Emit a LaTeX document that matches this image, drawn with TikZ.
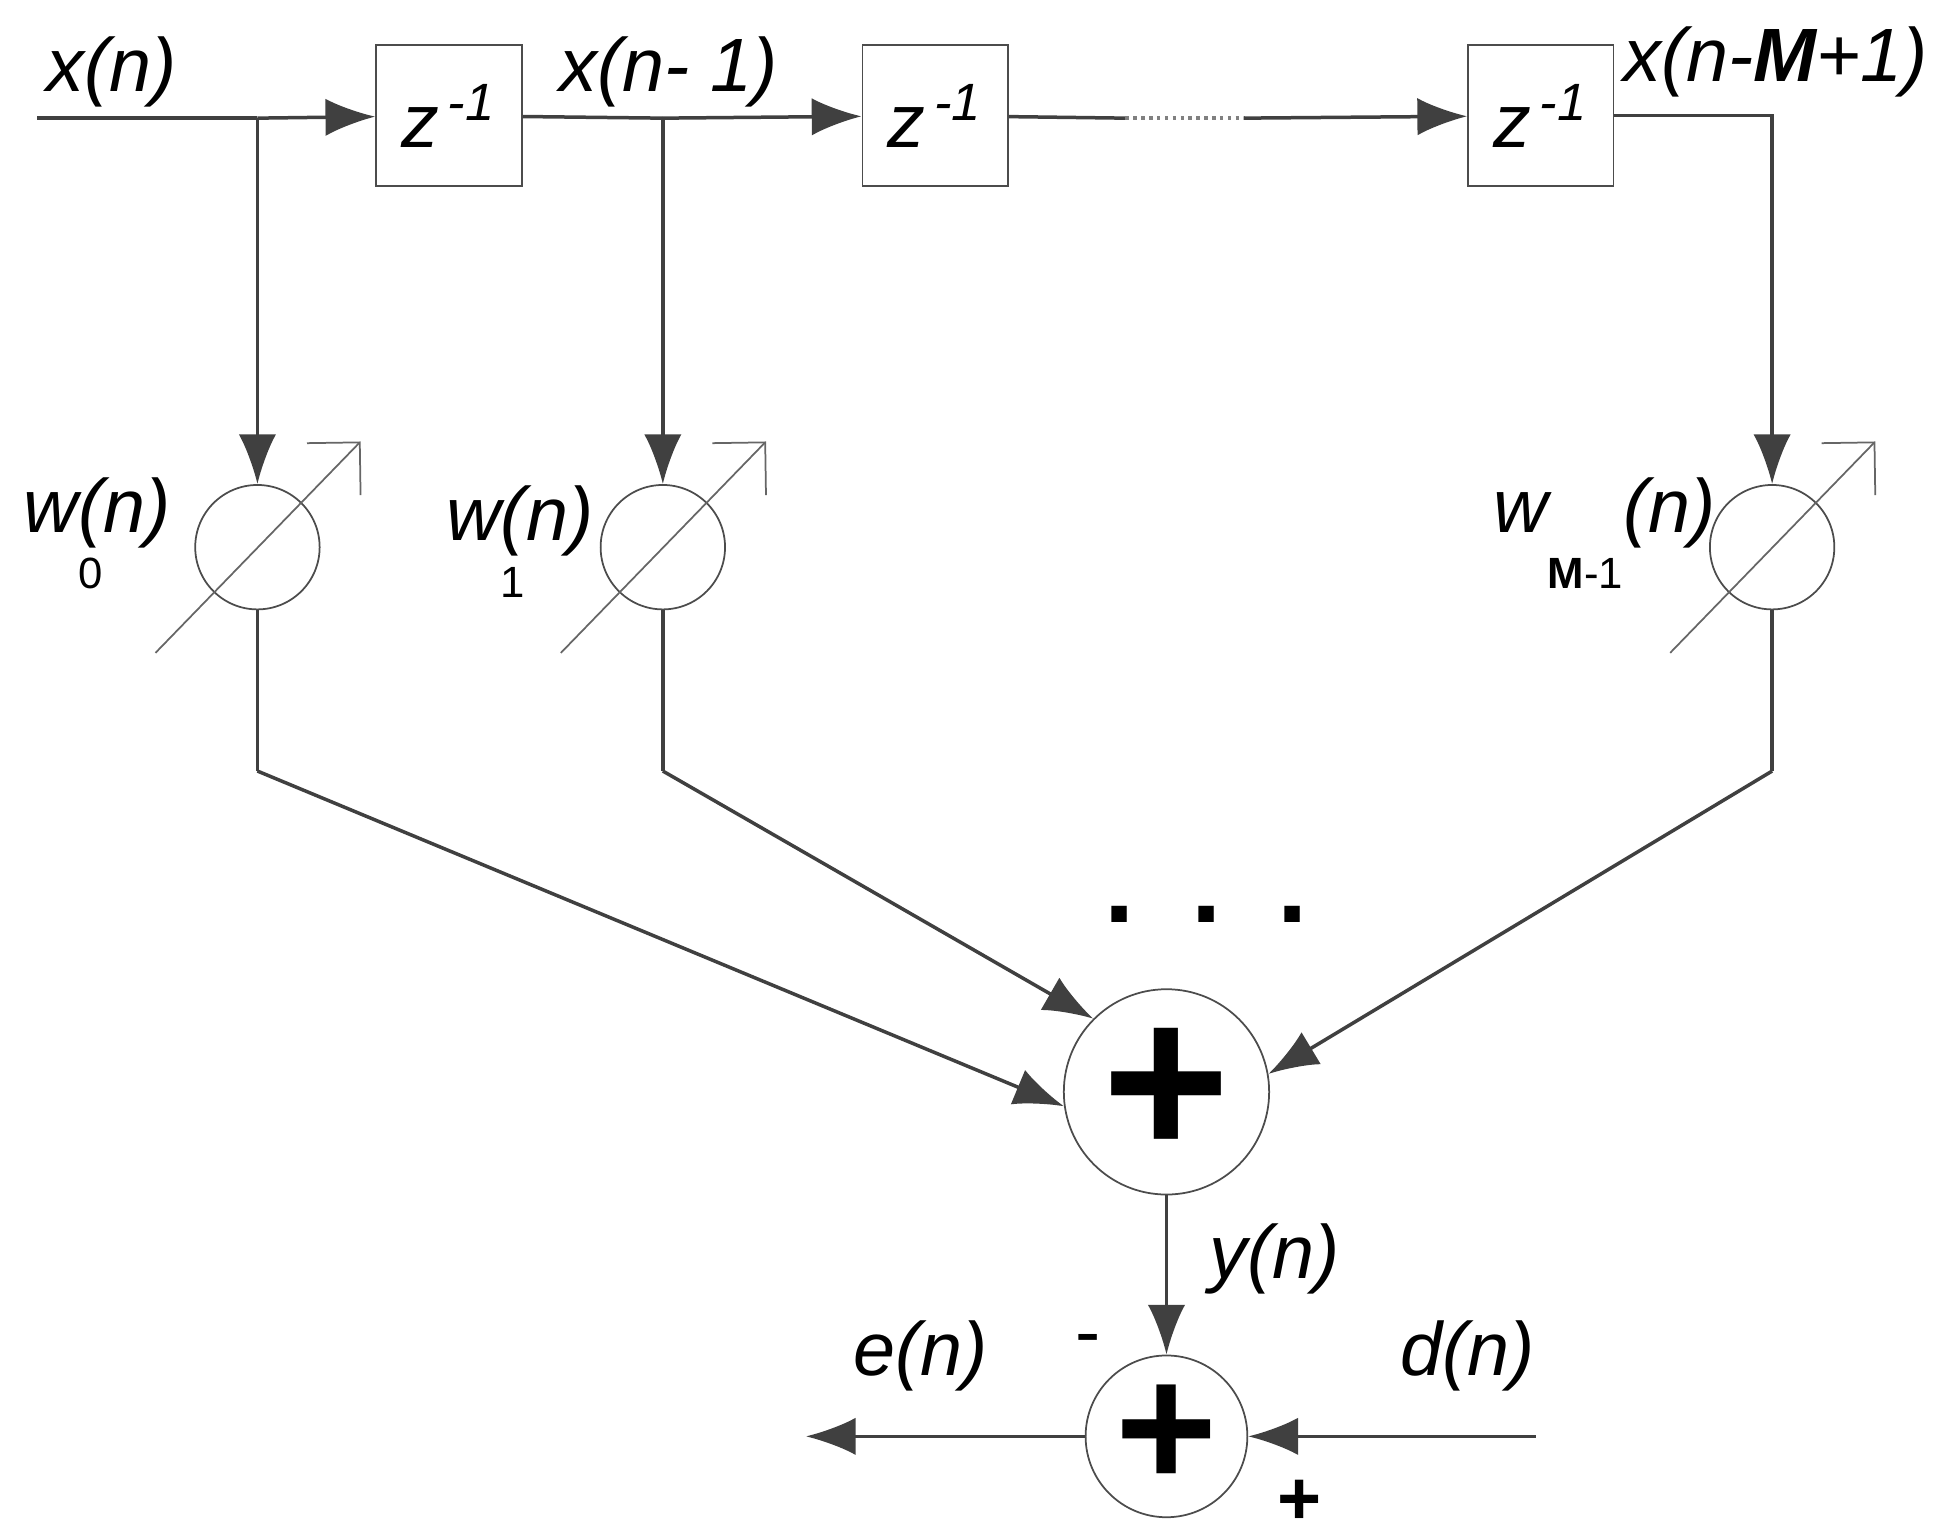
\documentclass[tikz,border=0pt]{standalone}
\usepackage{fontspec}
\setmainfont{Liberation Sans}
\usetikzlibrary{arrows.meta, positioning}
\begin{document}
\begin{tikzpicture}[x=0.01cm, y=-0.01cm,
    delay/.style={draw=black!70, minimum width=1.17cm, minimum height=1.13cm, inner sep=0pt, font=\LARGE\itshape},
    gain/.style={circle, draw=black!70, minimum size=1cm, inner sep=0pt},
    adder/.style={circle, draw=black!70, inner sep=0pt},
    lbl/.style={font=\LARGE\itshape, inner sep=0pt},
    sig/.style={draw=black!75, thick, -{Latex[length=4mm, width=3mm]}},
    wire/.style={draw=black!75, thick}]
  \useasboundingbox (0,0) rectangle (1560,1236);
  % delay line
  \coordinate (in) at (30,95);
  \node[delay] (d1) at (361,93) {z\textsuperscript{\,-1}};
  \node[delay] (d2) at (752,93) {z\textsuperscript{\,-1}};
  \node[delay] (d3) at (1239,93) {z\textsuperscript{\,-1}};
  \coordinate (t0) at (207,95);
  \coordinate (t1) at (533,95);
  \coordinate (t2) at (1425,95);
  \coordinate (dotA) at (905,95);
  \coordinate (dotB) at (1000,95);
  \draw[wire] (in) -- (t0);
  \draw[sig] (t0) -- (d1);
  \draw[wire] (d1) -- (t1);
  \draw[sig] (t1) -- (d2);
  \draw[wire] (d2) -- (dotA);
  \draw[wire, densely dotted, black!50] (dotA) -- (dotB);
  \draw[sig] (dotB) -- (d3);
  \draw[wire] (d3.east) -| (t2);
  % tap weights
  \foreach \i/\x in {0/207, 1/533, 2/1425} {
    \node[gain] (g\i) at (\x,440) {};
    \coordinate (a\i) at (\x-82,525);
    \coordinate (b\i) at (\x+83,355);
    \draw[draw=black!60, -{Straight Barb[length=3mm]}] (a\i) -- (b\i);
    \draw[sig] (t\i) -- (g\i);
    \coordinate (k\i) at (\x,620);
    \draw[wire] (g\i) -- (k\i);
  }
  % summation
  \node[adder, minimum size=1.65cm, font=\fontsize{50}{50}\bfseries] (sum) at (938,878) {+};
  \draw[sig] (k0) -- (sum.188);
  \draw[sig] (k1) -- (sum.135);
  \draw[sig] (k2) -- (sum.10);
  \node[lbl, font=\Huge\bfseries] (dots) at (970,735) {.\hspace{0.45cm}.\hspace{0.45cm}.};
  % error
  \node[adder, minimum size=1.3cm, font=\fontsize{40}{40}\bfseries] (err) at (938,1155) {+};
  \coordinate (out) at (648,1155);
  \coordinate (dsrc) at (1235,1155);
  \draw[sig] (sum) -- (err);
  \draw[sig] (err) -- (out);
  \draw[sig] (dsrc) -- (err);
  % labels
  \node[lbl] (lx0) at (90,58) {x(n)};
  \node[lbl] (lx1) at (538,58) {x(n- 1)};
  \node[lbl] (lx2) at (1428,50) {x(n-\textbf{M}+1)};
  \node[lbl, anchor=base] (lw0) at (78,428) {w\rlap{\raisebox{-0.75em}{\normalsize\upshape 0}}(n)};
  \node[lbl, anchor=base] (lw1) at (418,435) {w\rlap{\raisebox{-0.75em}{\normalsize\upshape 1}}(n)};
  \node[lbl, anchor=base] (lw2) at (1290,428) {w\raisebox{-0.75em}{\normalsize\upshape\textbf{M}-1}(n)};
  \node[lbl] (ly) at (1025,1012) {y(n)};
  \node[lbl] (le) at (740,1090) {e(n)};
  \node[lbl] (ld) at (1180,1090) {d(n)};
  \node[lbl, font=\LARGE] (lm) at (875,1082) {-};
  \node[lbl, font=\LARGE\bfseries] (lp) at (1045,1208) {+};
\end{tikzpicture}
\end{document}
